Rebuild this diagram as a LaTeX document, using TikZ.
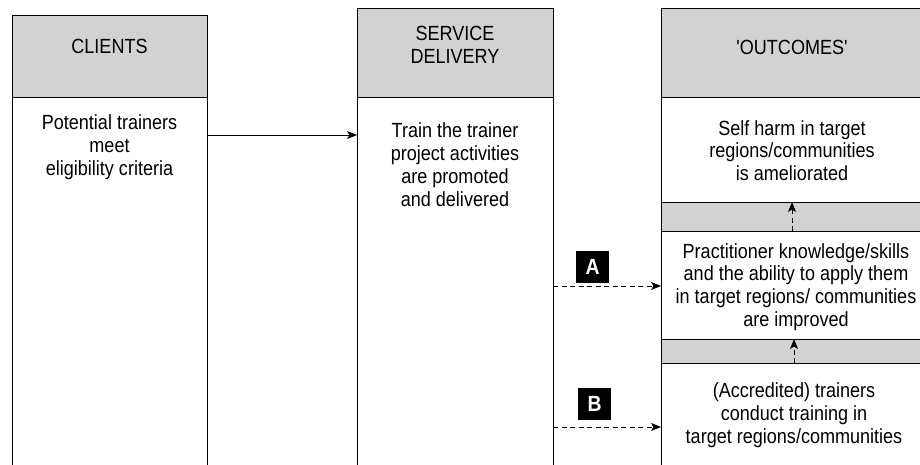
\documentclass[tikz,border=0pt]{standalone}
\usepackage{fontspec}
\setmainfont{Liberation Sans}[FakeStretch=0.88]
\newfontfamily\plainfont{Liberation Sans}[FakeStretch=0.88]
\usetikzlibrary{arrows.meta}
\definecolor{hdrgray}{RGB}{210,210,210}
\tikzset{
  box/.style={draw=black, line width=1pt, anchor=north west, inner sep=0pt, outer sep=0pt},
  hdrbox/.style={box, fill=hdrgray},
  txt/.style={align=center, font=\fontsize{20.5}{22.8}\selectfont, inner sep=0pt},
  lbl/.style={fill=black, text=white, minimum width=33pt, minimum height=32pt, inner sep=0pt,
              font=\fontsize{22}{22}\selectfont\bfseries},
  conn/.style={line width=1pt, -{Stealth[length=10pt,width=8pt,inset=2.5pt]}},
  dconn/.style={conn, dash pattern=on 5pt off 3.5pt},
}
\begin{document}
\begin{tikzpicture}[x=1pt,y=-1pt]
\useasboundingbox (0,0) rectangle (920,464);
% clients column
\node[hdrbox, minimum width=195pt, minimum height=82pt] (ch) at (12,15) {};
\node[box, minimum width=195pt, minimum height=373pt] (cb) at (12,97) {};
% service delivery column
\node[hdrbox, minimum width=196pt, minimum height=89pt] (sh) at (357,8) {};
\node[box, minimum width=196pt, minimum height=373pt] (sb) at (357,97) {};
% outcomes column
\node[hdrbox, minimum width=262pt, minimum height=89pt] (oh) at (661,8) {};
\node[box, minimum width=262pt, minimum height=105pt] (o1) at (661,97) {};
\node[hdrbox, minimum width=262pt, minimum height=29pt] (g1) at (661,202) {};
\node[box, minimum width=262pt, minimum height=108pt] (o2) at (661,231) {};
\node[hdrbox, minimum width=262pt, minimum height=24pt] (g2) at (661,339) {};
\node[box, minimum width=262pt, minimum height=107pt] (o3) at (661,363) {};
% texts
\node[txt] (tch) at (109.5,46) {CLIENTS};
\node[txt] (tsh) at (455,45) {SERVICE\\DELIVERY};
\node[txt] (toh) at (792,47) {\plainfont 'OUTCOMES'};
\node[txt] (tcb) at (109.5,147) {Potential trainers\\meet\\eligibility criteria};
\node[txt] (tsb) at (455,164.5) {Train the trainer\\project activities\\are promoted\\and delivered};
\node[txt] (to1) at (792,150.5) {Self harm in target\\regions/communities\\is ameliorated};
\node[txt] (to2) at (796,287) {Practitioner knowledge/skills\\and the ability to apply them\\in target regions/ communities\\are improved};
\node[txt] (to3) at (794,415) {(Accredited) trainers\\conduct training in\\target regions/communities};
% labels
\node[lbl] (la) at (592.5,267) {A};
\node[lbl] (lb) at (594.5,403.5) {B};
% connectors
\draw[conn] ([yshift=-38pt]cb.north east) -- ([yshift=-38pt]sb.north west);
\draw[dconn] ([yshift=-189pt]sb.north east) -- ([yshift=-189pt]sb.north east -| o2.west);
\draw[dconn] ([yshift=-330pt]sb.north east) -- ([yshift=-330pt]sb.north east -| o3.west);
\draw[dconn] ([xshift=131pt]g1.south west) -- ([xshift=131pt]g1.north west);
\draw[dconn] ([xshift=133pt]g2.south west) -- ([xshift=133pt]g2.north west);
\end{tikzpicture}
\end{document}
